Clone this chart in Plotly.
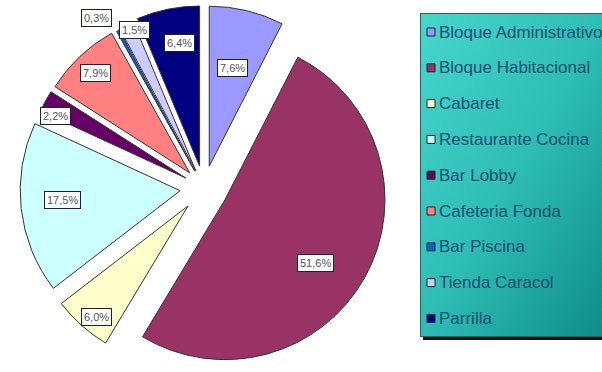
import math
import base64
import plotly.graph_objects as go

# ---------------- data ----------------
categories = ["Bloque Administrativo", "Bloque Habitacional", "Cabaret",
              "Restaurante Cocina", "Bar Lobby", "Cafeteria Fonda",
              "Bar Piscina", "Tienda Caracol", "Parrilla"]
values = [7.6, 51.6, 6.0, 17.5, 2.2, 7.9, 0.3, 1.5, 6.4]
colors = ["#9999FF", "#993366", "#FFFFCC", "#CCFFFF", "#660066",
          "#FF8080", "#0066CC", "#CCCCFF", "#000080"]
labels_txt = [f"{v:.1f}%".replace(".", ",") for v in values]

# ---------------- layout / style ----------------
W, H = 602, 372
M_T = 4
dom_x = [0.0, 408 / 602]
pulls = [0.14, 0.15, 0.15, 0.15, 0.13, 0.13, 0.12, 0.12, 0.14]
label_r = [0.63, 0.69, 0.90, 0.735, 0.90, 0.86, 1.14, 0.96, 0.78]
label_dtheta = [0, 6, -2, 2, -3, 0, -4, 2, 2]
FONT = "Liberation Sans, Arial, sans-serif"

fig = go.Figure()
fig.add_trace(go.Pie(
    labels=categories, values=values, sort=False, direction="clockwise",
    rotation=0, pull=pulls, textinfo="none", hoverinfo="skip",
    marker=dict(colors=colors, line=dict(color="#333333", width=1)),
    domain=dict(x=dom_x, y=[0, 1]), showlegend=False,
))

# pie geometry (same rule plotly uses) for placing the boxed labels
ph = H - M_T
r = min(W * (dom_x[1] - dom_x[0]) / 2, ph / 2) / (1 + max(pulls))
cx = W * (dom_x[0] + dom_x[1]) / 2
cy = M_T + ph / 2
total = sum(values)

def to_paper(px, py):
    return px / W, (H - py) / ph

annotations = []
cum = 0.0
for i, v in enumerate(values):
    mid = (cum + v / 2) / total * 2 * math.pi
    cum += v
    tx = cx + pulls[i] * r * math.sin(mid)
    ty = cy - pulls[i] * r * math.cos(mid)
    a = mid + math.radians(label_dtheta[i])
    lx = tx + label_r[i] * r * math.sin(a)
    ly = ty - label_r[i] * r * math.cos(a)
    xp, yp = to_paper(lx, ly)
    annotations.append(dict(
        x=xp, y=yp, xref="paper", yref="paper", text=labels_txt[i],
        xanchor="center", yanchor="middle",
        showarrow=False, bgcolor="white", bordercolor="#222222",
        borderwidth=1, borderpad=2,
        font=dict(family=FONT, size=11, color="#555555")))

# legend box (gradient background)
LX0, LY0, LX1, LY1 = 420, 13, 612, 337
svg = (
    f'<svg xmlns="http://www.w3.org/2000/svg" width="{LX1-LX0}" height="{LY1-LY0}" '
    f'viewBox="0 0 {LX1-LX0} {LY1-LY0}" preserveAspectRatio="none">'
    '<defs><linearGradient id="g" x1="0" y1="0" x2="1" y2="1">'
    '<stop offset="0" stop-color="#46D6CE"/>'
    '<stop offset="0.5" stop-color="#2DBDB5"/>'
    '<stop offset="1" stop-color="#0E8A86"/>'
    '</linearGradient></defs>'
    f'<rect x="0.5" y="0.5" width="{LX1-LX0-1}" height="{LY1-LY0-1}" '
    'fill="url(#g)" stroke="#2F5F5F" stroke-width="1"/></svg>'
)
src = "data:image/svg+xml;base64," + base64.b64encode(svg.encode()).decode()

# shadow strip under the legend box (does not overlap the box itself)
shapes = [dict(type="rect", xref="paper", yref="paper",
               x0=(LX0 + 3) / W, x1=(LX1 + 3) / W,
               y0=(H - (LY1 + 3)) / ph, y1=(H - LY1) / ph,
               fillcolor="#111111", line=dict(width=0), layer="below")]

images = [dict(source=src, xref="paper", yref="paper",
               x=LX0 / W, y=(H - LY0) / ph,
               sizex=(LX1 - LX0) / W, sizey=(LY1 - LY0) / ph,
               xanchor="left", yanchor="top", sizing="stretch",
               layer="below")]

ITEM_Y0, ITEM_STEP = 32, 35.8
for i, name in enumerate(categories):
    yc = ITEM_Y0 + i * ITEM_STEP
    shapes.append(dict(type="rect", xref="paper", yref="paper",
                       x0=427 / W, x1=435 / W,
                       y0=(H - (yc + 4)) / ph, y1=(H - (yc - 4)) / ph,
                       fillcolor=colors[i], line=dict(color="#222222", width=1)))
    annotations.append(dict(
        x=437 / W, y=(H - yc) / ph, xref="paper", yref="paper",
        xanchor="left", yanchor="middle", text=name, showarrow=False,
        font=dict(family=FONT, size=17, color="#1D4E72")))

fig.update_layout(
    width=W, height=H, margin=dict(l=0, r=0, t=M_T, b=0),
    paper_bgcolor="white", plot_bgcolor="white",
    annotations=annotations, shapes=shapes, images=images,
)
fig.write_html("out.html")
